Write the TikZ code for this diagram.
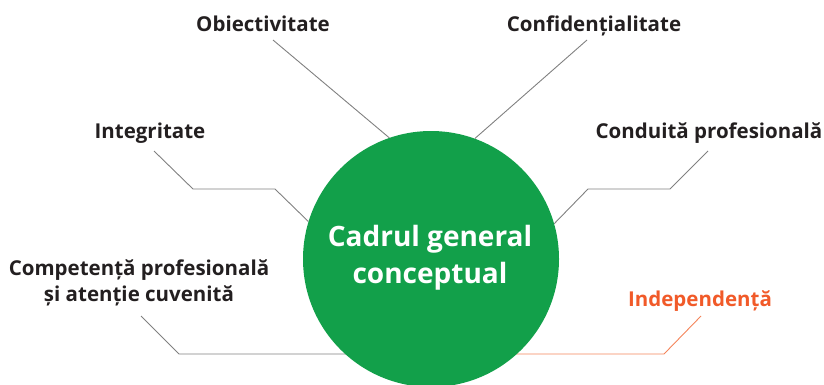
\documentclass[tikz,border=0pt]{standalone}
\usepackage{fontspec}
\setmainfont{Open Sans}
\usetikzlibrary{backgrounds}
\definecolor{hubgreen}{HTML}{12A04A}
\definecolor{inkdark}{HTML}{231F20}
\definecolor{accent}{HTML}{F15A29}
\definecolor{accentline}{HTML}{F4845A}
\definecolor{leadergray}{HTML}{808080}
\begin{document}
\begin{tikzpicture}[x=1pt,y=-1pt,
  label/.style={font=\bfseries\fontsize{20.5}{26}\selectfont, text=inkdark, inner sep=0pt, anchor=base, align=center},
  hub/.style={circle, fill=hubgreen, minimum size=256pt, inner sep=0pt},
  hubtext/.style={text=white, font=\bfseries\fontsize{28}{37}\selectfont, inner sep=0pt, anchor=base, align=center},
  leader/.style={draw=leadergray, line width=0.9pt},
  leaderhot/.style={draw=accentline, line width=0.9pt}]
\useasboundingbox (0,0) rectangle (824,384);

% central hub
\node[hub] (hub) at (431,259) {};
\node[hubtext] (title) at (430,283) {Cadrul general\\conceptual};

% surrounding principles
\node[label] (obj) at (263,31) {Obiectivitate};
\node[label] (conf) at (594,31) {Confidențialitate};
\node[label] (integ) at (150,138) {Integritate};
\node[label] (cond) at (709,138) {Conduită profesională};
\node[label] (comp) at (139,301) {Competență profesională\\și atenție cuvenită};
\node[label, text=accent] (indep) at (700,306) {Independență};

% leader-line knots
\coordinate (objA) at (273,40);
\coordinate (confA) at (587,40);
\coordinate (integA) at (154,151);
\coordinate (integB) at (193,189);
\coordinate (integC) at (275,189);
\coordinate (condA) at (708,151);
\coordinate (condB) at (670,189);
\coordinate (condC) at (588,189);
\coordinate (compA) at (141,316);
\coordinate (compB) at (179,354);
\coordinate (indepA) at (701,316);
\coordinate (indepB) at (664,354);

\begin{scope}[on background layer]
\draw[leader] (objA) -- (hub.109.6);
\draw[leader] (confA) -- (hub.70.6);
\draw[leader] (integA) -- (integB) -- (integC) -- (hub.163.8);
\draw[leader] (condA) -- (condB) -- (condC) -- (hub.16.2);
\draw[leader] (compA) -- (compB) -- (hub.center |- compB);
\draw[leaderhot] (indepA) -- (indepB) -- (hub.center |- indepB);
\end{scope}
\end{tikzpicture}
\end{document}
